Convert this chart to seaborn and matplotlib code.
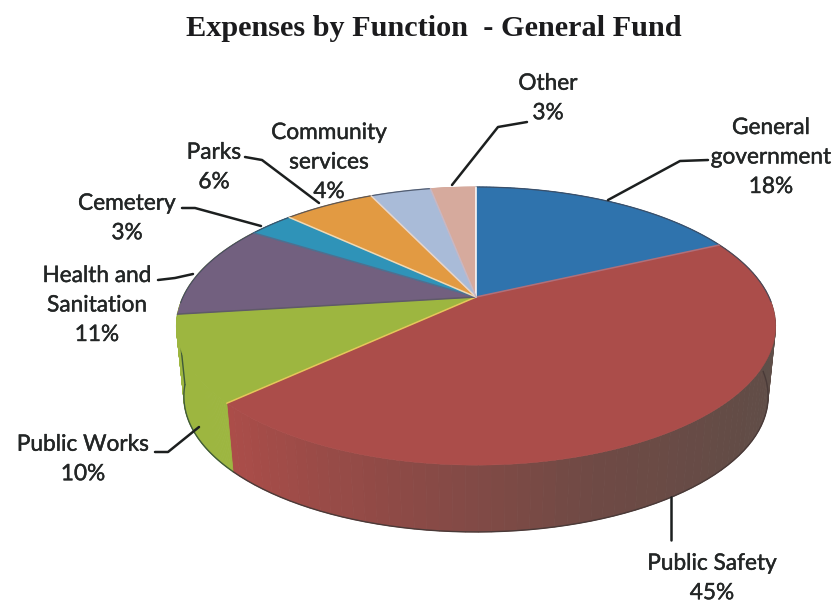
import numpy as np
import seaborn as sns
import matplotlib
matplotlib.use("Agg")
import matplotlib.pyplot as plt
import matplotlib.patheffects as pe
from matplotlib.patches import Polygon
from matplotlib.path import Path
from matplotlib.collections import PolyCollection

# ---- data ----
categories = ["General\ngovernment", "Public Safety", "Public Works", "Health and\nSanitation",
              "Cemetery", "Parks", "Community\nservices", "Other"]
shares = [18, 45, 10, 11, 3, 6, 4, 3]
top_colors = ["#2f73ad", "#ab4d4a", "#9db640", "#72607f", "#2f93b8", "#e29a42", "#a9bbd8", "#d6aa9d"]

# ---- label layout, in pixels of the picture ----
label_xy = [(771, 157), (712, 578), (83, 459), (97, 305), (127, 218), (214, 167), (329, 162), (548, 98)]
leaders = [
    [(608, 200), (680, 161), (708, 160)],
    [(671, 497), (671, 540)],
    [(199, 427), (168, 452), (155, 452)],
    [(193, 274), (175, 278), (158, 280)],
    [(261, 226), (195, 208), (182, 208)],
    [(319, 203), (262, 160), (245, 157)],
    [(452, 185), (498, 127), (527, 122)],
]
# seam drawn on the radius at the start of each slice
seams = ["#ffffff", "#b0707a", "#e6c65a", "#5f5a68", "#4f6f90", "#efd9b5", "#e8d5c8", "#c8b8c4"]

# ---- shape of the tilted pie ----
cx, cy = 476, 297
rx, ry = 293, 133
persp = 0.209
depth = 71
shrink = 0.975


def project(theta, scale=1.0, drop=0):
    x = np.cos(np.radians(theta))
    y = np.sin(np.radians(theta))
    w = 1 + persp * y
    return np.column_stack([cx + scale * rx * x / w, cy - scale * ry * y / w + drop])


sns.set_theme(style="white")
plt.rcParams["font.family"] = ["Lato", "DejaVu Sans"]

fig, ax = plt.subplots(figsize=(8.4, 6.04), dpi=100)
fig.subplots_adjust(0, 0, 1, 1)

wedges, _ = ax.pie(shares, colors=top_colors, startangle=90, counterclock=False)
ax.set_aspect("auto")
ax.set_xlim(0, 840)
ax.set_ylim(604, 0)
ax.axis("off")

outline = Path(project(np.linspace(0, 360, 361)))

# side walls first, so the top faces cover their back half
for i, w in enumerate(wedges):
    angles = np.linspace(w.theta1, w.theta2, 80)
    top = project(angles)
    low = project(angles, shrink, depth)
    quads = [[top[j], top[j + 1], low[j + 1], low[j]] for j in range(len(angles) - 1)]
    if i == 1:
        shade = sns.blend_palette(["#ab4d49", "#8f4a46", "#6f4a45", "#634c46", "#5f4f49", "#5a4f49"], len(quads))
    else:
        # only the green wall shows, the purple sliver next to it reads as green too
        shade = [top_colors[2]] * len(quads) if i == 3 else [top_colors[i]] * len(quads)
    ax.add_collection(PolyCollection(quads, facecolors=shade, edgecolors=shade, linewidths=0.6))
    if i in (1, 2):
        seen = ~outline.contains_points(low)
        ax.plot(low[seen, 0], low[seen, 1], color="#4a3a38" if i == 1 else "#3f5a3a", lw=1.0,
                solid_capstyle="round")
    if i == 2:
        # left silhouette of the wall, down from the rim to the bottom arc
        ax.plot([top[0, 0], low[0, 0]], [top[0, 1], low[0, 1]], color="#3f5a3a", lw=1.0)

# top faces, rebuilt from the wedge angles through the projection
apex = project(np.array([0.0]), 0.0)
for i, w in enumerate(wedges):
    angles = np.linspace(w.theta1, w.theta2, 120)
    arc = project(angles)
    ax.add_patch(Polygon(np.vstack([apex, arc]), closed=True, facecolor=top_colors[i],
                         edgecolor=top_colors[i], lw=0.3, zorder=3))
    w.set_visible(False)
    rim = arc[np.sin(np.radians(angles)) > -0.05]
    if i not in (2, 7):
        ax.plot(rim[:, 0], rim[:, 1], color="#3d4658", lw=0.9, alpha=0.8, zorder=4)

for i, w in enumerate(wedges):
    start = project(np.array([w.theta2]))
    ax.plot([apex[0, 0], start[0, 0]], [apex[0, 1], start[0, 1]], color=seams[i], lw=1.1, zorder=5)

for path in leaders:
    xs, ys = zip(*path)
    ax.plot(xs, ys, color="#1c1f1f", lw=1.8, zorder=6)

for name, share, (x, y) in zip(categories, shares, label_xy):
    ax.text(x, y, f"{name}\n{share}%", ha="center", va="center", fontsize=16.3, color="#232626",
            linespacing=1.5, zorder=7,
            path_effects=[pe.withStroke(linewidth=0.3, foreground="#232626")])

ax.text(434, 28, "Expenses by Function  - General Fund", ha="center", va="center",
        family="Liberation Serif", fontweight="bold", fontsize=21.8, color="#1b1b1d")

fig.savefig("out.png", dpi=100, facecolor="white")
